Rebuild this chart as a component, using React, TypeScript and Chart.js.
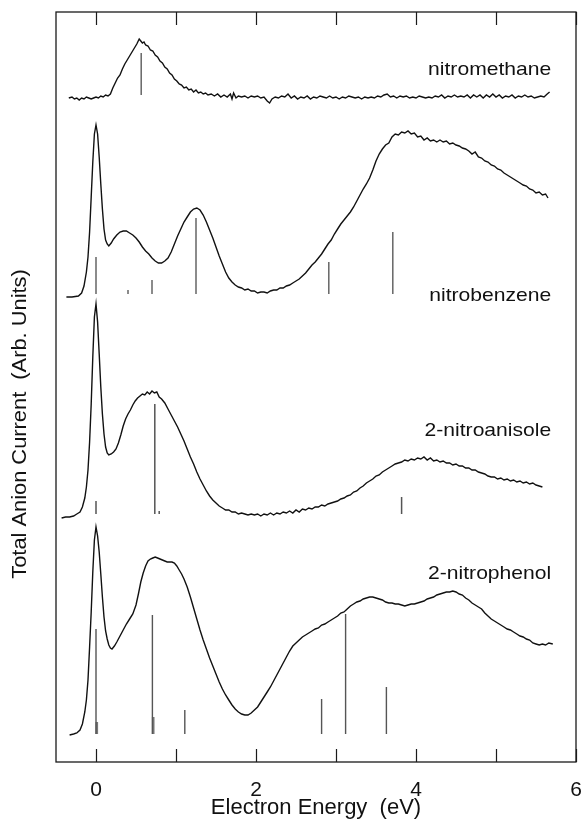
import React, { useEffect, useRef } from "react";
import { Chart, registerables } from "chart.js";

Chart.register(...registerables);

// ---------- data (energy in eV, current in arbitrary units, spectra stacked with offsets) ----------
const X_MIN = -0.5;
const X_MAX = 6;
const Y_MIN = 0;
const Y_MAX = 750;
const X_TICK_VALUES = [0, 1, 2, 3, 4, 5, 6];
const X_TICK_LABELS = ["0", "", "2", "", "4", "", "6"];

const SERIES_NAMES = ["nitromethane", "nitrobenzene", "2-nitroanisole", "2-nitrophenol"];
const LABEL_X = [5.69, 5.69, 5.69, 5.69];
const LABEL_Y = [687, 461, 326, 183];

const nitromethane: [number, number][] = [
  [-0.34,664],[-0.30,665],[-0.27,663],[-0.24,664],[-0.21,662],[-0.18,664],[-0.15,663],[-0.12,665],[-0.09,664],[-0.06,663],
  [-0.03,664],[0.0,665],[0.03,664],[0.06,666],[0.09,665],[0.12,667],[0.15,666],[0.18,668],[0.21,674],[0.24,679],
  [0.27,684],[0.30,687],[0.33,693],[0.36,698],[0.39,702],[0.42,706],[0.45,710],[0.48,714],[0.51,718],[0.54,723],
  [0.56,721],[0.58,719],[0.60,720],[0.62,717],[0.65,716],[0.68,712],[0.71,711],[0.74,707],[0.77,705],[0.80,701],
  [0.83,699],[0.86,695],[0.89,693],[0.92,689],[0.95,687],[0.98,683],[1.01,681],[1.04,678],[1.07,677],[1.10,674],
  [1.13,675],[1.16,672],[1.19,673],[1.22,670],[1.25,672],[1.28,669],[1.31,670],[1.34,668],[1.37,669],[1.40,667],
  [1.44,668],[1.48,666],[1.52,668],[1.56,665],[1.60,667],[1.64,665],[1.68,668],[1.70,663],[1.72,669],[1.75,664],
  [1.78,666],[1.82,665],[1.86,666],[1.90,664],[1.94,666],[1.98,665],[2.02,666],[2.06,664],[2.10,665],[2.14,661],
  [2.17,659],[2.20,663],[2.24,665],[2.28,664],[2.32,666],[2.36,665],[2.40,668],[2.44,664],[2.48,666],[2.52,663],
  [2.56,665],[2.60,664],[2.64,666],[2.68,663],[2.72,665],[2.76,664],[2.80,666],[2.84,665],[2.88,664],[2.92,666],
  [2.96,664],[3.00,665],[3.04,663],[3.08,665],[3.12,664],[3.16,666],[3.20,665],[3.24,664],[3.28,665],[3.32,663],
  [3.36,665],[3.40,664],[3.44,665],[3.48,664],[3.52,666],[3.56,665],[3.60,667],[3.64,668],[3.68,665],[3.72,666],
  [3.76,664],[3.80,666],[3.84,665],[3.88,666],[3.92,664],[3.96,665],[4.00,664],[4.04,666],[4.08,665],[4.12,664],
  [4.16,665],[4.20,664],[4.24,666],[4.28,665],[4.32,667],[4.36,664],[4.40,666],[4.44,665],[4.48,667],[4.52,665],
  [4.56,666],[4.60,665],[4.64,667],[4.68,664],[4.72,667],[4.76,665],[4.80,667],[4.84,664],[4.88,667],[4.92,665],
  [4.96,668],[5.00,665],[5.04,667],[5.08,664],[5.12,666],[5.16,665],[5.20,667],[5.24,664],[5.28,666],[5.32,665],
  [5.36,667],[5.40,665],[5.44,666],[5.48,664],[5.52,665],[5.56,666],[5.60,665],[5.64,668],[5.67,670],
];

const nitrobenzene: [number, number][] = [
  [-0.37,465],[-0.30,465],[-0.22,466],[-0.18,469],[-0.15,476],[-0.12,490],[-0.10,505],[-0.08,530],[-0.06,565],[-0.04,600],
  [-0.02,628],[0.0,637],[0.02,628],[0.04,605],[0.06,578],[0.08,553],[0.10,533],[0.12,522],[0.14,518],[0.16,516],
  [0.19,519],[0.22,523],[0.26,527],[0.30,530],[0.34,531],[0.38,531],[0.42,529],[0.46,527],[0.50,524],[0.54,520],
  [0.58,515],[0.62,511],[0.66,508],[0.70,504],[0.74,501],[0.78,499],[0.82,499],[0.86,501],[0.90,504],[0.94,510],
  [0.98,518],[1.02,526],[1.06,533],[1.10,540],[1.14,545],[1.18,550],[1.22,553],[1.26,554],[1.30,552],[1.34,547],
  [1.38,540],[1.42,532],[1.46,524],[1.50,515],[1.54,506],[1.58,498],[1.62,490],[1.66,484],[1.70,480],[1.74,477],
  [1.78,475],[1.82,474],[1.86,472],[1.90,473],[1.94,471],[1.98,471],[2.02,469],[2.06,470],[2.10,470],[2.14,469],
  [2.18,471],[2.22,472],[2.26,472],[2.30,474],[2.34,474],[2.38,476],[2.42,477],[2.46,479],[2.50,481],[2.54,483],
  [2.58,486],[2.62,489],[2.66,493],[2.70,497],[2.74,500],[2.78,504],[2.82,508],[2.86,513],[2.90,518],[2.94,522],
  [2.98,528],[3.02,533],[3.06,538],[3.10,542],[3.14,546],[3.18,550],[3.22,555],[3.26,561],[3.30,567],[3.34,573],
  [3.38,578],[3.42,584],[3.46,592],[3.50,601],[3.54,608],[3.58,613],[3.62,617],[3.66,619],[3.70,625],[3.74,628],
  [3.78,627],[3.82,630],[3.86,629],[3.90,631],[3.94,628],[3.98,629],[4.02,625],[4.06,626],[4.10,622],[4.14,624],
  [4.18,621],[4.22,622],[4.26,620],[4.30,622],[4.34,620],[4.38,621],[4.42,618],[4.46,619],[4.50,617],[4.54,616],
  [4.58,614],[4.62,613],[4.66,611],[4.70,608],[4.74,610],[4.78,605],[4.82,604],[4.86,601],[4.90,600],[4.94,597],
  [4.98,596],[5.02,593],[5.06,592],[5.10,589],[5.14,587],[5.18,585],[5.22,583],[5.26,581],[5.30,579],[5.34,577],
  [5.38,576],[5.42,573],[5.46,572],[5.50,569],[5.54,570],[5.58,567],[5.62,568],[5.65,564],
];

const nitroanisole: [number, number][] = [
  [-0.43,244],[-0.38,245],[-0.33,245],[-0.28,246],[-0.24,248],[-0.20,250],[-0.17,255],[-0.14,264],[-0.12,275],[-0.10,292],
  [-0.08,320],[-0.06,358],[-0.04,405],[-0.02,445],[0.0,458],[0.02,440],[0.04,408],[0.06,375],[0.08,348],[0.10,328],
  [0.12,315],[0.14,309],[0.16,307],[0.19,308],[0.22,310],[0.25,313],[0.28,319],[0.31,327],[0.34,336],[0.37,343],
  [0.40,348],[0.43,352],[0.46,357],[0.49,361],[0.52,364],[0.55,366],[0.58,368],[0.61,367],[0.64,370],[0.67,368],
  [0.70,371],[0.73,369],[0.76,370],[0.79,365],[0.82,363],[0.86,359],[0.90,353],[0.94,347],[0.98,341],[1.02,335],
  [1.06,328],[1.10,321],[1.14,313],[1.18,305],[1.22,298],[1.26,290],[1.30,283],[1.34,277],[1.38,271],[1.42,266],
  [1.46,262],[1.50,259],[1.54,256],[1.58,254],[1.62,252],[1.66,252],[1.70,250],[1.74,250],[1.78,248],[1.82,249],
  [1.86,248],[1.90,247],[1.94,248],[1.98,247],[2.02,248],[2.06,246],[2.10,248],[2.14,247],[2.18,249],[2.22,247],
  [2.26,249],[2.30,248],[2.34,250],[2.38,249],[2.42,251],[2.46,249],[2.50,252],[2.54,250],[2.58,253],[2.62,252],
  [2.66,254],[2.70,253],[2.74,255],[2.78,255],[2.82,257],[2.86,256],[2.90,258],[2.94,259],[2.98,260],[3.02,261],
  [3.06,263],[3.10,264],[3.14,266],[3.18,267],[3.22,270],[3.26,271],[3.30,274],[3.34,276],[3.38,279],[3.42,281],
  [3.46,283],[3.50,286],[3.54,287],[3.58,290],[3.62,292],[3.66,294],[3.70,296],[3.74,298],[3.78,299],[3.82,300],
  [3.86,302],[3.90,301],[3.94,303],[3.98,302],[4.02,304],[4.06,303],[4.10,305],[4.14,302],[4.18,304],[4.22,301],
  [4.26,302],[4.30,300],[4.34,301],[4.38,299],[4.42,299],[4.46,297],[4.50,298],[4.54,296],[4.58,296],[4.62,294],
  [4.66,294],[4.70,292],[4.74,292],[4.78,290],[4.82,289],[4.86,288],[4.90,286],[4.94,285],[4.98,285],[5.02,283],
  [5.06,284],[5.10,282],[5.14,283],[5.18,281],[5.22,282],[5.26,280],[5.30,281],[5.34,279],[5.38,280],[5.42,278],
  [5.46,279],[5.50,277],[5.54,276],[5.58,275],
];

const nitrophenol: [number, number][] = [
  [-0.33,27],[-0.28,28],[-0.24,29],[-0.20,32],[-0.17,38],[-0.14,50],[-0.12,62],[-0.10,82],[-0.08,115],[-0.06,150],
  [-0.04,190],[-0.02,222],[0.0,235],[0.02,226],[0.04,210],[0.06,188],[0.08,165],[0.10,145],[0.12,131],[0.14,123],
  [0.16,117],[0.18,114],[0.20,113],[0.23,116],[0.26,120],[0.30,126],[0.34,132],[0.38,138],[0.42,143],[0.46,148],
  [0.50,157],[0.53,168],[0.56,180],[0.59,189],[0.62,196],[0.65,201],[0.68,203],[0.71,204],[0.74,205],[0.77,204],
  [0.80,203],[0.83,202],[0.86,201],[0.89,200],[0.92,200],[0.95,200],[0.98,199],[1.01,196],[1.04,192],[1.07,188],
  [1.10,183],[1.14,175],[1.18,165],[1.22,154],[1.26,143],[1.30,132],[1.34,122],[1.38,113],[1.42,104],[1.46,96],
  [1.50,88],[1.54,80],[1.58,73],[1.62,67],[1.66,62],[1.70,57],[1.74,53],[1.78,50],[1.82,48],[1.86,47],
  [1.90,47],[1.94,49],[1.98,52],[2.02,55],[2.06,60],[2.10,65],[2.14,70],[2.18,75],[2.22,81],[2.26,87],
  [2.30,93],[2.34,99],[2.38,105],[2.42,111],[2.46,116],[2.50,119],[2.54,122],[2.58,125],[2.62,127],[2.66,129],
  [2.70,131],[2.74,133],[2.78,134],[2.82,137],[2.86,138],[2.90,140],[2.94,142],[2.98,144],[3.02,146],[3.06,149],
  [3.10,150],[3.14,153],[3.18,156],[3.22,158],[3.26,160],[3.30,161],[3.34,163],[3.38,164],[3.42,165],[3.46,165],
  [3.50,164],[3.54,163],[3.58,162],[3.62,160],[3.66,159],[3.70,159],[3.74,158],[3.78,158],[3.82,157],[3.86,156],
  [3.90,157],[3.94,158],[3.98,158],[4.02,159],[4.06,160],[4.10,161],[4.14,163],[4.18,164],[4.22,165],[4.26,167],
  [4.30,168],[4.34,169],[4.38,170],[4.42,170],[4.46,171],[4.50,170],[4.54,168],[4.58,167],[4.62,164],[4.66,162],
  [4.70,159],[4.74,157],[4.78,155],[4.82,153],[4.86,149],[4.90,146],[4.94,143],[4.98,141],[5.02,139],[5.06,137],
  [5.10,135],[5.14,133],[5.18,132],[5.22,130],[5.26,128],[5.30,126],[5.34,125],[5.38,123],[5.42,122],[5.46,119],
  [5.50,118],[5.54,117],[5.58,118],[5.62,117],[5.66,119],[5.71,118],
];

// stick spectra (calculated levels): positions, bottom level, top levels
const nmStickX = [0.565];
const nmStickTop = [709];
const nmStickBase = 667;

const nbStickX = [0.0, 0.40, 0.70, 1.25, 2.91, 3.71];
const nbStickTop = [505, 472, 482, 544, 500, 530];
const nbStickBase = 468;

const naStickX = [0.0, 0.735, 0.79, 3.82];
const naStickTop = [261, 358, 251, 265];
const naStickBase = 248;

const npStickX = [0.0, 0.705, 1.11, 2.82, 3.12, 3.63];
const npStickTop = [133, 147, 52, 63, 148, 75];
const npStickBase = 28;

const npShortStickX = [0.01, 0.715];
const npShortStickTop = [40, 45];

// ---------- helpers ----------
function toPoints(arr: [number, number][]) {
  return arr.map(([x, y]) => ({ x, y }));
}

function sticks(xs: number[], tops: number[], base: number) {
  const out: { x: number; y: number | null }[] = [];
  xs.forEach((x, i) => {
    out.push({ x, y: base });
    out.push({ x, y: tops[i] });
    out.push({ x, y: null });
  });
  return out;
}

const FONT = "'Liberation Sans', Arial, Helvetica, sans-serif";

const decorPlugin = {
  id: "decor",
  afterDraw(chart: any) {
    const { ctx, chartArea } = chart;
    const xs = chart.scales.x;
    const ys = chart.scales.y;
    ctx.save();
    // frame
    ctx.strokeStyle = "#1a1a1a";
    ctx.lineWidth = 1.3;
    ctx.strokeRect(chartArea.left, chartArea.top, chartArea.right - chartArea.left, chartArea.bottom - chartArea.top);
    // inward tick marks, top and bottom
    ctx.lineWidth = 1.2;
    X_TICK_VALUES.forEach((v) => {
      const px = Math.round(xs.getPixelForValue(v)) + 0.5;
      ctx.beginPath();
      ctx.moveTo(px, chartArea.bottom);
      ctx.lineTo(px, chartArea.bottom - 13);
      ctx.moveTo(px, chartArea.top);
      ctx.lineTo(px, chartArea.top + 13);
      ctx.stroke();
    });
    // spectrum names
    ctx.fillStyle = "#111";
    ctx.font = `18.5px ${FONT}`;
    ctx.textAlign = "right";
    ctx.textBaseline = "alphabetic";
    SERIES_NAMES.forEach((name, i) => {
      const px = xs.getPixelForValue(LABEL_X[i]);
      const py = ys.getPixelForValue(LABEL_Y[i]);
      ctx.save();
      ctx.translate(px, py);
      ctx.scale(1.14, 1);
      ctx.fillText(name, 0, 0);
      ctx.restore();
    });
    // y axis title
    ctx.save();
    ctx.translate(21, 424);
    ctx.rotate(-Math.PI / 2);
    ctx.scale(1.12, 1);
    ctx.font = `19.5px ${FONT}`;
    ctx.textAlign = "center";
    ctx.textBaseline = "middle";
    ctx.fillText("Total Anion Current  (Arb. Units)", 0, 0);
    ctx.restore();
    ctx.restore();
  },
};

export default function App() {
  const ref = useRef<HTMLCanvasElement | null>(null);

  useEffect(() => {
    if (!ref.current) return;
    const curve = (data: [number, number][]) => ({
      data: toPoints(data),
      borderColor: "#111",
      borderWidth: 1.4,
      pointRadius: 0,
      tension: 0,
      fill: false,
    });
    const stick = (data: any[], color: string, width: number) => ({
      data,
      borderColor: color,
      borderWidth: width,
      pointRadius: 0,
      spanGaps: false,
      fill: false,
    });
    const chart = new Chart(ref.current, {
      type: "line",
      data: {
        datasets: [
          stick(sticks(nmStickX, nmStickTop, nmStickBase), "#666", 1.5),
          stick(sticks(nbStickX, nbStickTop, nbStickBase), "#666", 1.5),
          stick(sticks(naStickX, naStickTop, naStickBase), "#555", 1.5),
          stick(sticks(npStickX, npStickTop, npStickBase), "#555", 1.4),
          stick(sticks(npShortStickX, npShortStickTop, npStickBase), "#777", 2.6),
          curve(nitromethane),
          curve(nitrobenzene),
          curve(nitroanisole),
          curve(nitrophenol),
        ] as any,
      },
      options: {
        animation: false,
        responsive: false,
        events: [],
        layout: { padding: { left: 56, right: 6, top: 12, bottom: 0 } },
        plugins: { legend: { display: false }, tooltip: { enabled: false } },
        scales: {
          x: {
            type: "linear",
            min: X_MIN,
            max: X_MAX,
            position: "bottom",
            grid: { display: false },
            border: { display: false },
            afterBuildTicks: (scale: any) => {
              scale.ticks = X_TICK_VALUES.map((v) => ({ value: v }));
            },
            afterFit: (scale: any) => {
              scale.height = 58;
              scale.paddingLeft = 0;
              scale.paddingRight = 0;
            },
            ticks: {
              autoSkip: false,
              maxRotation: 0,
              padding: 8,
              color: "#111",
              font: { family: FONT, size: 21 },
              callback: (v: any) => {
                const i = X_TICK_VALUES.indexOf(Number(v));
                return i >= 0 ? X_TICK_LABELS[i] : "";
              },
            },
            title: {
              display: true,
              text: "Electron Energy  (eV)",
              color: "#111",
              font: { family: FONT, size: 22, lineHeight: 1.1 },
              padding: { top: 0, bottom: 0 },
            },
          },
          y: {
            type: "linear",
            min: Y_MIN,
            max: Y_MAX,
            display: false,
          },
        },
      },
      plugins: [decorPlugin],
    });
    return () => chart.destroy();
  }, []);

  return (
    <div style={{ position: "fixed", left: 0, top: 0, width: 582, height: 820, background: "#fff" }}>
      <canvas ref={ref} width={582} height={820} style={{ display: "block" }} />
    </div>
  );
}
